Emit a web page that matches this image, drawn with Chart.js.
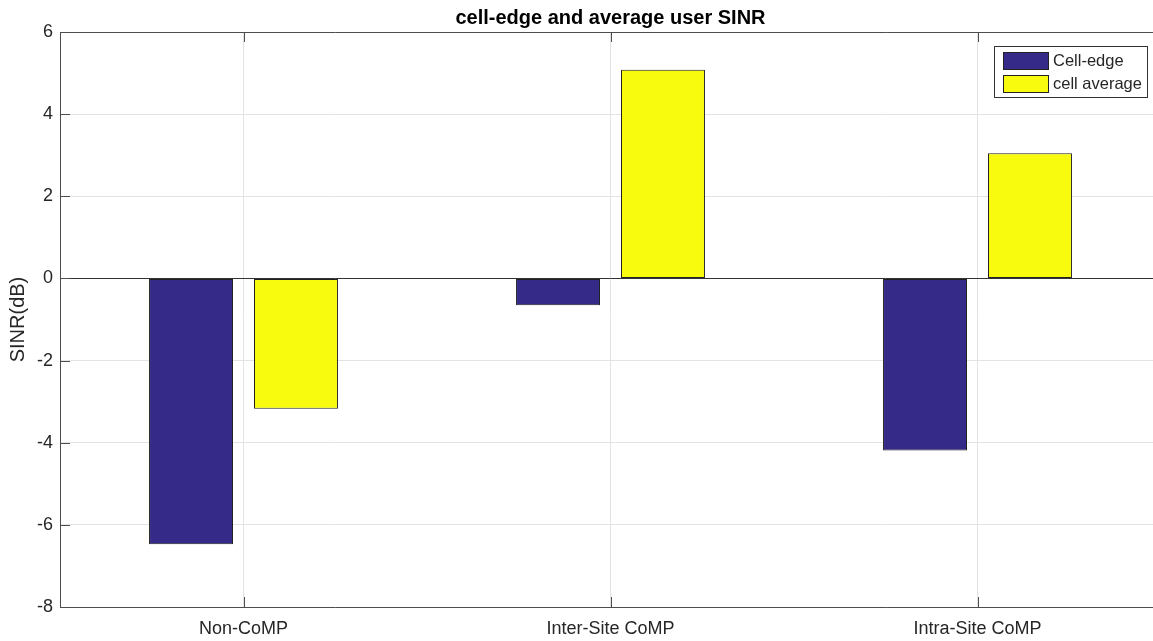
<!DOCTYPE html>
<html>
<head>
<meta charset="utf-8">
<script src="https://cdn.jsdelivr.net/npm/chart.js@4/dist/chart.umd.min.js"></script>
<style>
  html, body { margin: 0; padding: 0; background: #ffffff; overflow: hidden; }
  canvas { display: block; }
</style>
</head>
<body>
<canvas id="grafico" width="1170" height="641"></canvas>
<script>
const categorias = ["Non-CoMP", "Inter-Site CoMP", "Intra-Site CoMP"];
const cellEdge = [-6.47, -0.65, -4.19];
const cellAverage = [-3.17, 5.08, 3.05];
const ticksY = [-8, -6, -4, -2, 0, 2, 4, 6];

const corEdge = "#352a87";
const corAverage = "#f9fb0e";
const corTexto = "#262626";
const fonte = "'Liberation Sans', Arial, sans-serif";

// caixa do eixo com marcas para dentro, estilo matlab
const caixaPlugin = {
  id: "caixa",
  afterDatasetsDraw(chart) {
    const { ctx, chartArea: a, scales } = chart;
    ctx.save();
    ctx.strokeStyle = "#4d4d4d";
    ctx.lineWidth = 1;
    ctx.beginPath();
    ctx.rect(a.left + 0.5, a.top + 0.5, a.right - a.left, a.bottom - a.top);
    ctx.stroke();
    ctx.beginPath();
    ticksY.forEach(v => {
      const y = Math.round(scales.y.getPixelForValue(v)) + 0.5;
      ctx.moveTo(a.left, y);
      ctx.lineTo(a.left + 10, y);
    });
    categorias.forEach((c, i) => {
      const x = Math.round(scales.x.getPixelForValue(i)) + 0.5;
      ctx.moveTo(x, a.top);
      ctx.lineTo(x, a.top + 10);
      ctx.moveTo(x, a.bottom);
      ctx.lineTo(x, a.bottom - 10);
    });
    ctx.stroke();

    // legenda dentro da area
    const lx = 994, ly = 46, lw = 153, lh = 51;
    ctx.fillStyle = "#ffffff";
    ctx.fillRect(lx, ly, lw, lh);
    ctx.strokeStyle = "#333333";
    ctx.strokeRect(lx + 0.5, ly + 0.5, lw, lh);
    ctx.font = "16.5px " + fonte;
    ctx.textBaseline = "middle";
    chart.data.datasets.forEach((ds, i) => {
      const sy = ly + 6 + i * 23;
      ctx.fillStyle = ds.backgroundColor;
      ctx.fillRect(lx + 9, sy, 45, 17);
      ctx.strokeStyle = "#222222";
      ctx.strokeRect(lx + 9.5, sy + 0.5, 45, 17);
      ctx.fillStyle = corTexto;
      ctx.fillText(ds.label, lx + 59, sy + 9);
    });
    ctx.restore();
  }
};

new Chart(document.getElementById("grafico"), {
  type: "bar",
  data: {
    labels: categorias,
    datasets: [{
      label: "Cell-edge",
      data: cellEdge,
      backgroundColor: corEdge,
      borderColor: "#222222",
      borderWidth: 1,
      borderSkipped: false,
      categoryPercentage: 0.572,
      barPercentage: 0.8
    }, {
      label: "cell average",
      data: cellAverage,
      backgroundColor: corAverage,
      borderColor: "#222222",
      borderWidth: 1,
      borderSkipped: false,
      categoryPercentage: 0.572,
      barPercentage: 0.8
    }]
  },
  options: {
    responsive: false,
    animation: false,
    layout: { padding: { left: 0, right: 9, top: 0, bottom: 0 } },
    plugins: {
      legend: { display: false },
      tooltip: { enabled: false },
      title: {
        display: true,
        fullSize: false,
        text: "cell-edge and average user SINR",
        color: "#000000",
        font: { family: fonte, size: 20, weight: "bold" },
        padding: { top: 6, bottom: 2 }
      }
    },
    scales: {
      x: {
        offset: true,
        grid: { offset: false, color: "#e3e3e3", drawTicks: false },
        border: { display: false },
        ticks: { color: corTexto, font: { family: fonte, size: 18 }, padding: 11, maxRotation: 0 },
        afterFit(scale) { scale.height = 34; }
      },
      y: {
        min: -8,
        max: 6,
        afterBuildTicks(scale) { scale.ticks = ticksY.map(v => ({ value: v })); },
        grid: {
          color: ctx => ctx.tick && ctx.tick.value === 0 ? "#333333" : "#e3e3e3",
          drawTicks: false
        },
        border: { display: false },
        ticks: { color: corTexto, font: { family: fonte, size: 18 }, padding: 7 },
        title: {
          display: true,
          text: "SINR(dB)",
          color: corTexto,
          font: { family: fonte, size: 20 },
          padding: { top: 6, bottom: 0 }
        },
        afterFit(scale) { scale.width = 60; }
      }
    }
  },
  plugins: [caixaPlugin]
});
</script>
</body>
</html>
